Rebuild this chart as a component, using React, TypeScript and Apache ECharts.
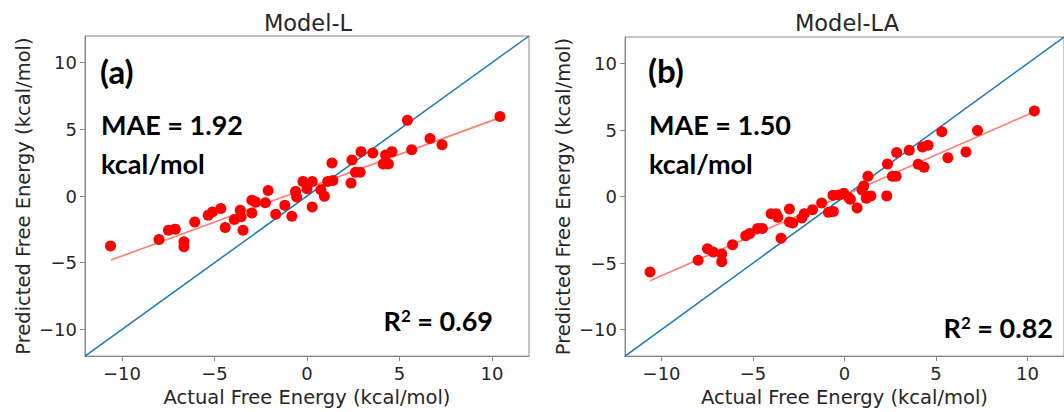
import React, { useEffect, useRef } from "react";
import * as echarts from "echarts";

// ---- Data ----
const tickValues = [-10, -5, 0, 5, 10];
const axisMin = -12;
const axisMax = 12;

const panelTitles = ["Model-L", "Model-LA"];
const panelTags = ["(a)", "(b)"];
const maeTexts = ["MAE = 1.92", "MAE = 1.50"];
const r2Values = ["0.69", "0.82"];
const xAxisName = "Actual Free Energy (kcal/mol)";
const yAxisName = "Predicted Free Energy (kcal/mol)";

// Panel (a) Model-L
const actualL = [
  -10.62, -8.0, -7.49, -7.12, -6.65, -6.65, -6.07, -5.34, -5.11, -4.66, -4.42, -3.93, -3.61,
  -3.56, -3.46, -2.98, -2.98, -2.77, -2.25, -2.1, -1.69, -1.2, -0.82, -0.62, -0.56, -0.22, 0.0,
  0.28, 0.28, 0.75, 0.94, 1.12, 1.4, 1.35, 2.38, 2.43, 2.62, 2.87, 2.92, 3.56, 4.12, 4.25, 4.4,
  4.59, 5.43, 5.66, 6.65, 7.3, 10.43,
];
const predL = [
  -3.75, -3.25, -2.56, -2.48, -3.42, -3.8, -1.94, -1.44, -1.19, -0.94, -2.36, -1.76, -1.07,
  -1.56, -2.56, -1.27, -0.32, -0.45, -0.5, 0.42, -1.36, -0.69, -1.51, 0.35, -0.07, 1.09, 0.55,
  1.09, -0.82, 0.47, -0.02, 1.09, 1.17, 2.48, 0.97, 2.7, 1.79, 1.79, 3.33, 3.23, 2.41, 3.08, 2.41,
  3.33, 5.68, 3.47, 4.32, 3.85, 5.96,
];
const fitL = [
  [-10.6, -4.8],
  [10.43, 5.88],
];

// Panel (b) Model-LA
const actualLA = [
  -10.63, -8.0, -7.49, -7.18, -6.71, -6.71, -6.12, -5.4, -5.18, -4.75, -4.49, -4.01, -3.74,
  -3.65, -3.47, -3.01, -3.01, -2.83, -2.33, -2.2, -1.75, -1.25, -0.88, -0.61, -0.63, -0.31,
  -0.04, 0.23, 0.32, 0.69, 0.96, 1.05, 1.19, 1.28, 1.44, 2.31, 2.35, 2.62, 2.82, 2.85, 3.54,
  4.03, 4.26, 4.35, 4.57, 5.32, 5.65, 6.64, 7.27, 10.38,
];
const predLA = [
  -5.67, -4.79, -3.93, -4.17, -4.32, -4.91, -3.63, -2.94, -2.77, -2.4, -2.4, -1.3, -1.3, -1.55,
  -3.14, -0.93, -1.91, -1.99, -1.62, -1.3, -1.0, -0.49, -1.18, -1.13, 0.1, 0.12, 0.25, -0.07,
  -0.2, -0.86, 0.49, 0.79, -0.12, 1.52, 0.05, 0.05, 2.45, 1.52, 1.52, 3.31, 3.48, 2.43, 3.73,
  2.21, 3.85, 4.88, 2.92, 3.36, 4.96, 6.43,
];
const fitLA = [
  [-10.63, -6.33],
  [10.38, 6.38],
];

const identityLine = [
  [axisMin, axisMin],
  [axisMax, axisMax],
];

// ---- Layout / style ----
const grids = [
  { left: 85, top: 36, width: 444, height: 324 },
  { left: 625, top: 37, width: 444, height: 325 },
];
const frameColor = "#8a8a8a";
const textColor = "#262626";
const tickFont = "DejaVu Sans";
const annoFont = "Lato";

function App() {
  const ref = useRef<HTMLDivElement>(null);

  useEffect(() => {
    if (!ref.current) return;
    const chart = echarts.init(ref.current, undefined, { renderer: "svg" });

    const minusFmt = (v: number) => String(v).replace("-", "\u2212");

    const xAxes = grids.map((_, i) => ({
      gridIndex: i,
      type: "value",
      min: axisMin,
      max: axisMax,
      name: xAxisName,
      nameLocation: "middle",
      nameGap: 30,
      nameTextStyle: { fontSize: 19.5, fontFamily: tickFont, color: textColor },
      axisLine: { show: true, onZero: false, lineStyle: { color: frameColor, width: 1 } },
      axisTick: { show: true, length: 5, customValues: tickValues, lineStyle: { color: frameColor } },
      axisLabel: {
        customValues: tickValues,
        formatter: minusFmt,
        fontSize: 18,
        fontFamily: tickFont,
        color: textColor,
        margin: 8,
      },
      splitLine: { show: false },
    }));

    const yAxes = grids.map((_, i) => ({
      gridIndex: i,
      type: "value",
      min: axisMin,
      max: axisMax,
      name: yAxisName,
      nameLocation: "middle",
      nameGap: 52,
      nameTextStyle: { fontSize: 19.5, fontFamily: tickFont, color: textColor },
      axisLine: { show: true, onZero: false, lineStyle: { color: frameColor, width: 1 } },
      axisTick: { show: true, length: 5, customValues: tickValues, lineStyle: { color: frameColor } },
      axisLabel: {
        customValues: tickValues,
        formatter: minusFmt,
        fontSize: 18,
        fontFamily: tickFont,
        color: textColor,
        margin: 8,
      },
      splitLine: { show: false },
    }));

    const panels = [
      { actual: actualL, pred: predL, fit: fitL },
      { actual: actualLA, pred: predLA, fit: fitLA },
    ];

    const series: any[] = [];
    panels.forEach((p, i) => {
      series.push({
        type: "line",
        xAxisIndex: i,
        yAxisIndex: i,
        data: identityLine,
        symbol: "none",
        lineStyle: { color: "#1f77b4", width: 1.5 },
        z: 2,
      });
      series.push({
        type: "line",
        xAxisIndex: i,
        yAxisIndex: i,
        data: p.fit,
        symbol: "none",
        lineStyle: { color: "#fa8072", width: 1.6 },
        z: 3,
      });
      series.push({
        type: "scatter",
        xAxisIndex: i,
        yAxisIndex: i,
        data: p.actual.map((x, k) => [x, p.pred[k]]),
        symbolSize: 11,
        itemStyle: { color: "#ff0000", opacity: 1 },
        z: 4,
      });
    });

    const graphics: any[] = [];
    grids.forEach((g, i) => {
      graphics.push({
        type: "text",
        x: i === 0 ? 308 : 847,
        y: 23,
        style: {
          text: panelTitles[i],
          fontSize: 22.5,
          fontFamily: tickFont,
          fill: textColor,
          align: "center",
          verticalAlign: "middle",
          textAlign: "center",
          textVerticalAlign: "middle",
        },
      });
      const lx = g.left + 16 + (i === 1 ? 8 : 0);
      graphics.push({
        type: "text",
        x: lx - 1,
        y: i === 0 ? 71 : 70,
        style: {
          text: panelTags[i],
          fontSize: 33,
          fontWeight: "bold",
          fontFamily: annoFont,
          fill: "#000",
          align: "left",
          verticalAlign: "middle",
          textAlign: "left",
          textVerticalAlign: "middle",
        },
      });
      graphics.push({
        type: "text",
        x: lx,
        y: 124,
        style: {
          text: maeTexts[i],
          fontSize: 27,
          fontWeight: "bold",
          fontFamily: annoFont,
          fill: "#000",
          align: "left",
          verticalAlign: "middle",
          textAlign: "left",
          textVerticalAlign: "middle",
        },
      });
      graphics.push({
        type: "text",
        x: lx,
        y: 163,
        style: {
          text: "kcal/mol",
          fontSize: 27,
          fontWeight: "bold",
          fontFamily: annoFont,
          fill: "#000",
          align: "left",
          verticalAlign: "middle",
          textAlign: "left",
          textVerticalAlign: "middle",
        },
      });
      graphics.push({
        type: "text",
        x: i === 0 ? 493 : 1053,
        y: i === 0 ? 320 : 327,
        style: {
          text: "{m|R}{s|2}{m| = " + r2Values[i] + "}",
          align: "right",
          verticalAlign: "middle",
          textAlign: "right",
          textVerticalAlign: "middle",
          rich: {
            m: { fontSize: 27, fontWeight: "bold", fontFamily: annoFont, fill: "#000", color: "#000", verticalAlign: "bottom" },
            s: { fontSize: 17, fontWeight: "bold", fontFamily: annoFont, fill: "#000", color: "#000", verticalAlign: "top" },
          },
        },
      });
    });

    chart.setOption({
      animation: false,
      backgroundColor: "#ffffff",
      grid: grids.map((g) => ({
        ...g,
        show: true,
        borderColor: frameColor,
        borderWidth: 1,
        backgroundColor: "transparent",
        containLabel: false,
      })),
      xAxis: xAxes,
      yAxis: yAxes,
      series,
      graphic: graphics,
    });

    return () => chart.dispose();
  }, []);

  return (
    <div
      ref={ref}
      style={{ position: "absolute", left: 0, top: 0, width: 1064, height: 412 }}
    />
  );
}

export default App;
